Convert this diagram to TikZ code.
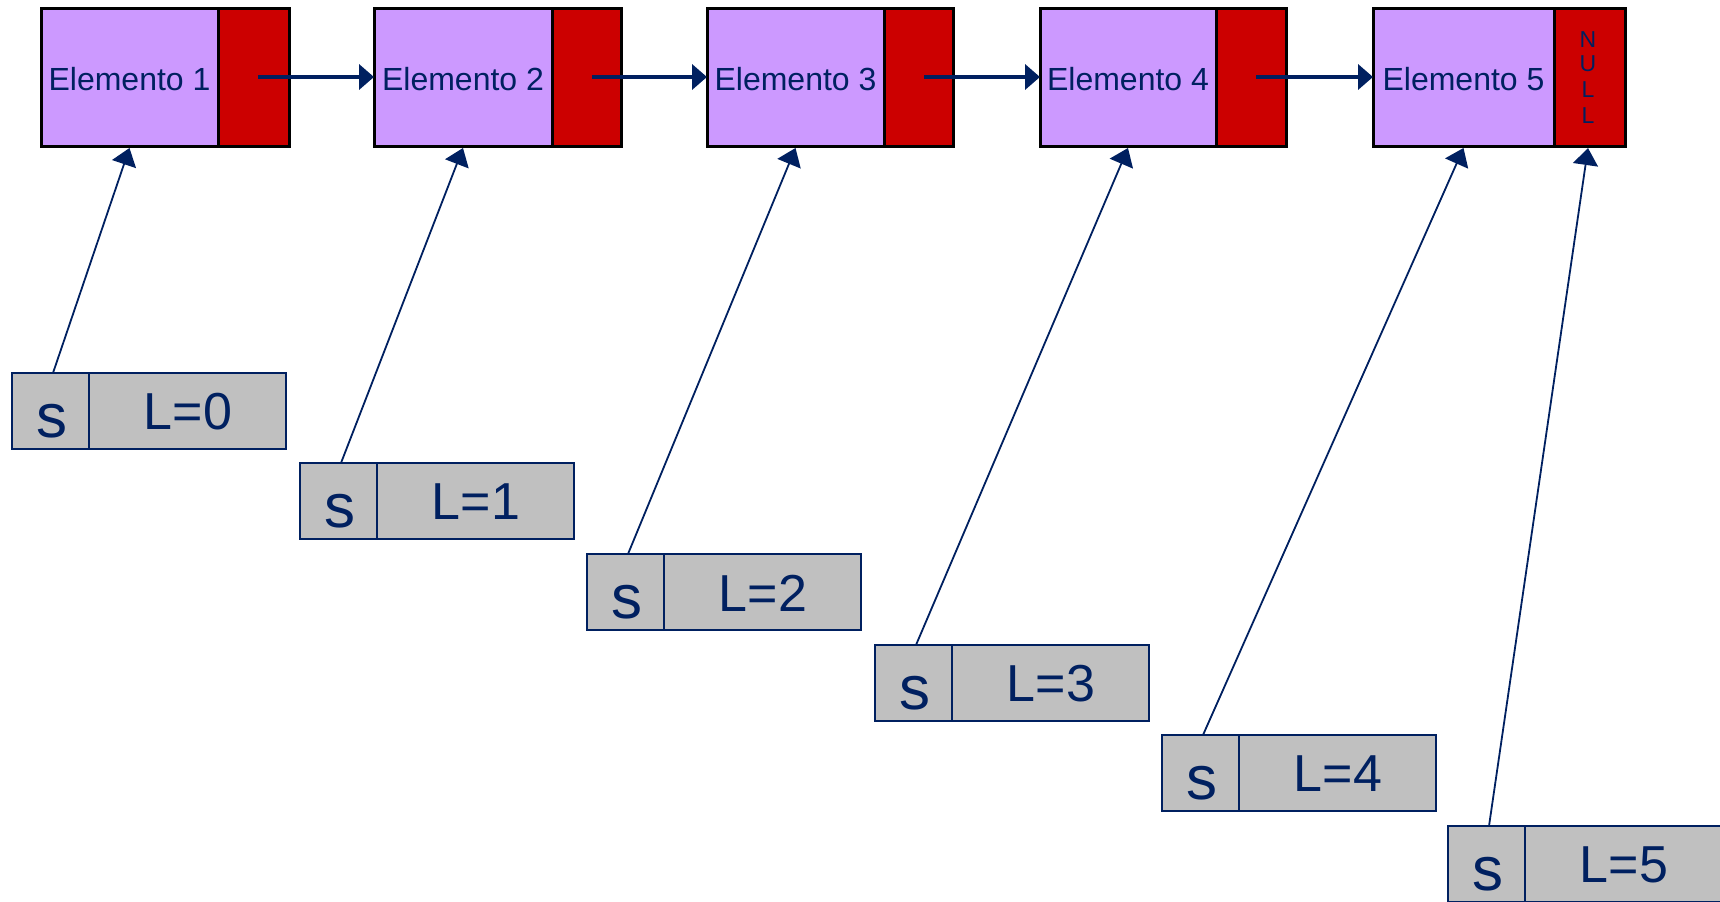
\documentclass[tikz,border=0pt]{standalone}
\usepackage{fontspec}
\setmainfont{Liberation Sans}
\usetikzlibrary{arrows.meta}
\definecolor{navy}{RGB}{0,32,96}
\definecolor{lilac}{RGB}{204,153,255}
\definecolor{ptrred}{RGB}{204,0,0}
\definecolor{boxgray}{RGB}{192,192,192}
\tikzset{
  datacell/.style={draw=black, line width=1.5pt, fill=lilac},
  ptrcell/.style={draw=black, line width=1.5pt, fill=ptrred},
  graycell/.style={draw=navy, line width=0.9pt, fill=boxgray},
  elemtext/.style={text=navy, font=\fontsize{16pt}{19pt}\selectfont},
  stext/.style={text=navy, font=\fontsize{31pt}{36pt}\selectfont, anchor=base},
  ltext/.style={text=navy, font=\fontsize{26pt}{30pt}\selectfont},
  nulltext/.style={text=navy, font=\fontsize{11.5pt}{13pt}\selectfont},
  nextarrow/.style={draw=navy, line width=2.2pt, -{Triangle[length=7.5pt,width=12.5pt]}},
  refarrow/.style={draw=navy, line width=0.9pt, -{Triangle[length=8.5pt,width=12.5pt]}},
}
\begin{document}
\begin{tikzpicture}[x=0.5pt,y=-0.5pt]
\useasboundingbox (0,0) rectangle (1720,901);
\clip (0,0) rectangle (1720,901);
% list elements
\foreach \i/\l/\d/\r in {1/41/218/289, 2/374/552/621, 3/707/884/953, 4/1040/1216/1286, 5/1373/1554/1625} {
  \path[datacell] (\l,8) rectangle (\d,146);
  \path[ptrcell] (\d,8) rectangle (\r,146);
  \node[elemtext] (e\i) at ({(\l+\d)/2},79) {Elemento \i};
  \coordinate (top\i) at ({(\l+\d)/2},148);
  \coordinate (in\i) at (\l,77);
  \coordinate (out\i) at (\d+40,77);
}
\coordinate (nulltop) at (1588,148);
\node[nulltext] (n1) at (1588,40) {N};
\node[nulltext] (n2) at (1588,64) {U};
\node[nulltext] (n3) at (1588,90) {L};
\node[nulltext] (n4) at (1588,116) {L};
% next pointers
\foreach \i/\j in {1/2,2/3,3/4,4/5} {
  \draw[nextarrow] (out\i) -- (in\j);
}
% s / L boxes
\foreach \k/\x/\y in {0/12/373, 1/300/463, 2/587/554, 3/875/645, 4/1162/735, 5/1448/826} {
  \path[graycell] (\x,\y) rectangle (\x+77,\y+76);
  \path[graycell] (\x+77,\y) rectangle (\x+274,\y+76);
  \node[stext] (s\k) at (\x+40,\y+64) {s};
  \node[ltext] (L\k) at (\x+176,\y+39) {L=\k};
  \coordinate (src\k) at (\x+41,\y);
}
\draw[refarrow] (src0) -- (top1);
\draw[refarrow] (src1) -- (top2);
\draw[refarrow] (src2) -- (top3);
\draw[refarrow] (src3) -- (top4);
\draw[refarrow] (src4) -- (top5);
\draw[refarrow] (src5) -- (nulltop);
\end{tikzpicture}
\end{document}
